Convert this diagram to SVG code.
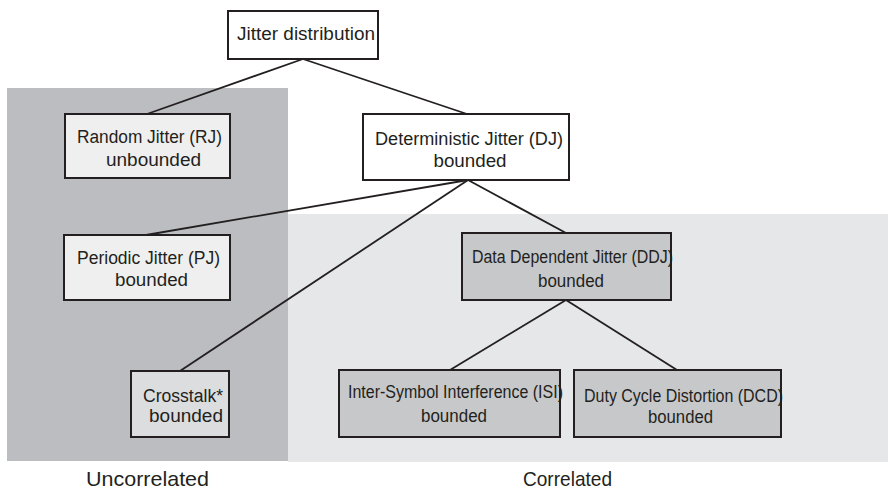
<svg xmlns="http://www.w3.org/2000/svg" width="888" height="491" viewBox="0 0 888 491">
<style>
.box{stroke:#231f20;stroke-width:2}
.w{fill:#ffffff}
.l{fill:#efefef}
.x{fill:#dcdddf}
.d{fill:#c7c8ca}
text{font-family:"Liberation Sans",Arial,sans-serif;fill:#231f20;font-size:18px;text-anchor:middle}
.s{font-size:17.5px}
.lab{font-size:21px}
#connectors line{stroke:#231f20;stroke-width:1.8}
</style>
<rect x="0" y="0" width="888" height="491" fill="#ffffff"/>
<g id="regions">
<rect x="288" y="214" width="600" height="248" fill="#e6e7e8"/>
<rect x="7" y="88" width="281" height="373" fill="#bcbdc0"/>
</g>
<g id="connectors">
<line x1="303" y1="59" x2="147" y2="114"/>
<line x1="303" y1="59" x2="467" y2="114"/>
<line x1="468" y1="180" x2="146" y2="235"/>
<line x1="468" y1="180" x2="180" y2="371"/>
<line x1="468" y1="180" x2="566" y2="233"/>
<line x1="566" y1="300" x2="450" y2="370"/>
<line x1="566" y1="300" x2="677" y2="370"/>
</g>
<g id="jitter-distribution">
<rect class="box w" x="228" y="11" width="150" height="48"/>
<text x="306" y="40" textLength="138" lengthAdjust="spacingAndGlyphs">Jitter distribution</text>
</g>
<g id="random-jitter">
<rect class="box l" x="65" y="114" width="165" height="64"/>
<text x="149.5" y="143" textLength="145" lengthAdjust="spacingAndGlyphs">Random Jitter (RJ)</text>
<text x="153.5" y="166" textLength="95" lengthAdjust="spacingAndGlyphs">unbounded</text>
</g>
<g id="deterministic-jitter">
<rect class="box w" x="363" y="114" width="206" height="66"/>
<text x="469" y="145" textLength="188" lengthAdjust="spacingAndGlyphs">Deterministic Jitter (DJ)</text>
<text x="470" y="167" textLength="73" lengthAdjust="spacingAndGlyphs">bounded</text>
</g>
<g id="periodic-jitter">
<rect class="box l" x="64" y="235" width="166" height="65"/>
<text x="148.5" y="264" textLength="143" lengthAdjust="spacingAndGlyphs">Periodic Jitter (PJ)</text>
<text x="151.5" y="286" textLength="73" lengthAdjust="spacingAndGlyphs">bounded</text>
</g>
<g id="crosstalk">
<rect class="box x" x="131" y="371" width="98" height="66" stroke-width="1.5"/>
<text x="223" y="402" style="text-anchor:end" textLength="80" lengthAdjust="spacingAndGlyphs">Crosstalk*</text>
<text x="223" y="422" style="text-anchor:end" textLength="74" lengthAdjust="spacingAndGlyphs">bounded</text>
</g>
<g id="data-dependent-jitter">
<rect class="box d" x="462" y="233" width="209" height="67"/>
<text class="s" x="572.5" y="263" textLength="201" lengthAdjust="spacingAndGlyphs">Data Dependent Jitter (DDJ)</text>
<text class="s" x="571" y="287" textLength="66" lengthAdjust="spacingAndGlyphs">bounded</text>
</g>
<g id="inter-symbol-interference">
<rect class="box d" x="339" y="370" width="221" height="67"/>
<text class="s" x="455.5" y="398" textLength="215" lengthAdjust="spacingAndGlyphs">Inter-Symbol Interference (ISI)</text>
<text class="s" x="454" y="422" textLength="66" lengthAdjust="spacingAndGlyphs">bounded</text>
</g>
<g id="duty-cycle-distortion">
<rect class="box d" x="574" y="370" width="207" height="67"/>
<text class="s" x="683.5" y="402" textLength="199" lengthAdjust="spacingAndGlyphs">Duty Cycle Distortion (DCD)</text>
<text class="s" x="680.5" y="423" textLength="65" lengthAdjust="spacingAndGlyphs">bounded</text>
</g>
<g id="labels">
<text class="lab" x="147.5" y="486" textLength="123" lengthAdjust="spacingAndGlyphs">Uncorrelated</text>
<text class="lab" x="567.5" y="486" textLength="89" lengthAdjust="spacingAndGlyphs">Correlated</text>
</g>
</svg>
